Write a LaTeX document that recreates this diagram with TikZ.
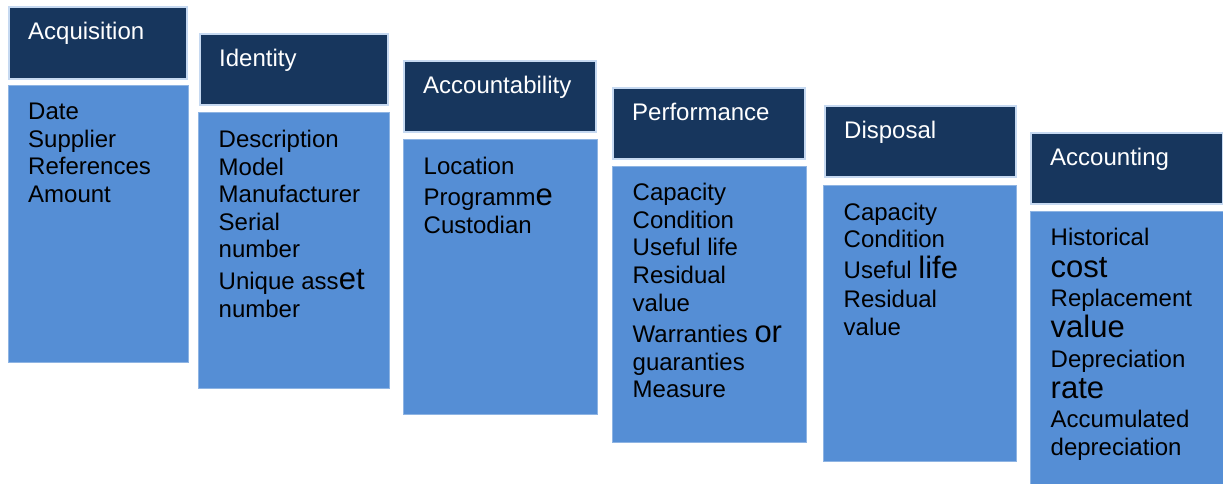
\documentclass[tikz,border=0pt]{standalone}
\usepackage{fontspec}
\setmainfont{Liberation Sans}
\definecolor{hdblue}{HTML}{17365D}
\definecolor{hdline}{HTML}{C6D9F1}
\definecolor{bdblue}{HTML}{558ED5}
\definecolor{bdline}{HTML}{8EB4E3}
\tikzset{
  hd/.style={rectangle, fill=hdblue, draw=hdline, line width=2pt, anchor=north west, inner sep=0pt},
  bd/.style={rectangle, fill=bdblue, draw=bdline, line width=1pt, anchor=north west, inner sep=0pt},
  hdtext/.style={anchor=base west, inner sep=0pt, text=white, font=\fontsize{24}{27.6}\selectfont},
  bdtext/.style={anchor=north west, inner sep=0pt, align=left, font=\fontsize{24}{27.6}\selectfont,
    execute at begin node={\rule{0pt}{20pt}}},
}
% larger words inside the item lists
\newcommand{\bigword}[1]{{\fontsize{31}{27.6}\selectfont #1}}
\begin{document}
\begin{tikzpicture}[x=1pt, y=-1pt]
\useasboundingbox (0,0) rectangle (1223,483);
\clip (0,0) rectangle (1223,483);
% headers
\node[hd, minimum width=178pt, minimum height=72pt] (hd1) at (8,6){};
\node[hd, minimum width=188pt, minimum height=71pt] (hd2) at (199,33){};
\node[hd, minimum width=192pt, minimum height=71pt] (hd3) at (403,60){};
\node[hd, minimum width=192pt, minimum height=71pt] (hd4) at (612,87){};
\node[hd, minimum width=191pt, minimum height=71pt] (hd5) at (824,105){};
\node[hd, minimum width=192pt, minimum height=71pt] (hd6) at (1030,132){};
% bodies
\node[bd, minimum width=180pt, minimum height=277pt] (bd1) at (7.5,84.5){};
\node[bd, minimum width=191pt, minimum height=276pt] (bd2) at (197.5,111.5){};
\node[bd, minimum width=194pt, minimum height=275pt] (bd3) at (402.5,138.5){};
\node[bd, minimum width=194pt, minimum height=276pt] (bd4) at (611.5,165.5){};
\node[bd, minimum width=193pt, minimum height=276pt] (bd5) at (822.5,184.5){};
\node[bd, minimum width=194pt, minimum height=285pt] (bd6) at (1029.5,210.5){};
% header titles
\node[hdtext] (ttl1) at ([xshift=20pt, yshift=-33pt]hd1.north west){Acquisition};
\node[hdtext] (ttl2) at ([xshift=20pt, yshift=-33pt]hd2.north west){Identity};
\node[hdtext] (ttl3) at ([xshift=20pt, yshift=-33pt]hd3.north west){Accountability};
\node[hdtext] (ttl4) at ([xshift=20pt, yshift=-33pt]hd4.north west){Performance};
\node[hdtext] (ttl5) at ([xshift=20pt, yshift=-33pt]hd5.north west){Disposal};
\node[hdtext] (ttl6) at ([xshift=20pt, yshift=-33pt]hd6.north west){Accounting};
% item lists
\node[bdtext] (lst1) at ([xshift=20.5pt, yshift=-18.5pt]bd1.north west){Date\\ Supplier\\ References\\ Amount};
\node[bdtext] (lst2) at ([xshift=21pt, yshift=-18.5pt]bd2.north west){Description\\ Model\\ Manufacturer\\ Serial\\ number\\[4pt] Unique ass\bigword{et}\\ number};
\node[bdtext] (lst3) at ([xshift=21pt, yshift=-18pt]bd3.north west){Location\\[4pt] Programm\bigword{e}\\ Custodian};
\node[bdtext] (lst4) at ([xshift=21pt, yshift=-17.5pt]bd4.north west){Capacity\\ Condition\\ Useful life\\ Residual\\ value\\[4pt] Warranties \bigword{or}\\ guaranties\\ Measure};
\node[bdtext] (lst5) at ([xshift=21pt, yshift=-18pt]bd5.north west){Capacity\\ Condition\\[3pt] Useful \bigword{life}\\[2pt] Residual\\ value};
\node[bdtext] (lst6) at ([xshift=21pt, yshift=-17pt]bd6.north west){Historical\\[5pt] \bigword{cost}\\[1pt] Replacement\\[4pt] \bigword{value}\\[2pt] Depreciation\\[3pt] \bigword{rate}\\[2pt] Accumulated\\ depreciation};
\end{tikzpicture}
\end{document}
